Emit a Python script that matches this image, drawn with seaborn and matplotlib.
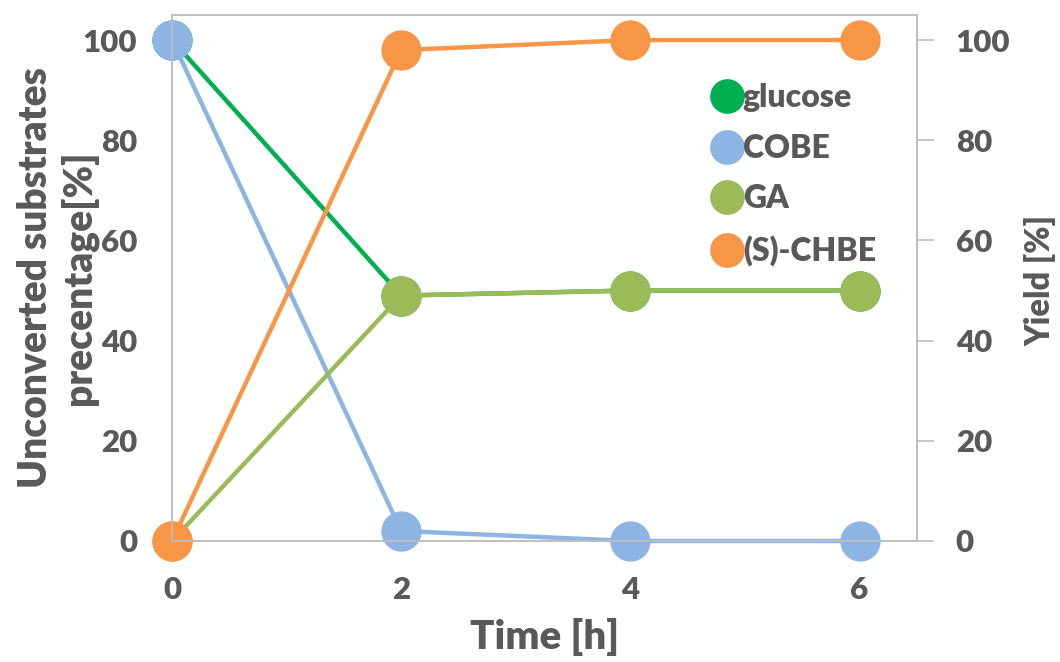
import matplotlib
matplotlib.use("Agg")
import matplotlib.pyplot as plt
import seaborn as sns
import pandas as pd
from matplotlib.lines import Line2D

time_h = [0, 2, 4, 6]
glucose = [100, 49, 50, 50]
cobe = [100, 2, 0, 0]
ga = [0, 49, 50, 50]
chbe = [0, 98, 100, 100]
series_names = ["glucose", "COBE", "GA", "(S)-CHBE"]
series_colors = ["#00B050", "#8EB4E3", "#9BBB59", "#F79646"]
y_ticks = [0, 20, 40, 60, 80, 100]

sns.set_theme(style="white")
plt.rcParams['font.family'] = ['Lato', 'DejaVu Sans']
W = 'heavy'
plt.rcParams['font.weight'] = W

txt = "#595959"
fig = plt.figure(figsize=(10.6, 6.62), dpi=100)
ax = fig.add_axes([0.1623, 0.1828, 0.865 - 0.1623, 0.9773 - 0.1828])

all_vals = [glucose, cobe, ga, chbe]
for name, vals, col in zip(series_names, all_vals, series_colors):
    df = pd.DataFrame({"t": time_h, "v": vals})
    sns.lineplot(data=df, x="t", y="v", ax=ax, color=col, lw=3.2,
                 marker="o", markersize=29, markeredgewidth=0,
                 markerfacecolor=col, clip_on=False, zorder=3)

ax.set_xlim(0, 6.5)
ax.set_ylim(0, 105)
ax.set_xticks(time_h)
ax.set_yticks(y_ticks)
ax.tick_params(axis='y', labelsize=22.5, labelcolor=txt, length=0, pad=25)
ax.tick_params(axis='x', labelsize=22.5, labelcolor=txt, length=0, pad=25)
for lab in ax.get_xticklabels() + ax.get_yticklabels():
    lab.set_fontweight(W)
ax.set_xlabel("Time [h]", fontsize=29, color=txt, fontweight=W)
ax.xaxis.label.set_va('center')
ax.xaxis.set_label_coords(0.5, -0.1825)
ax.set_ylabel("Unconverted substrates\nprecentage[%]", fontsize=28, color=txt,
              fontweight=W, linespacing=1.18)
ax.yaxis.label.set_va('center')
ax.yaxis.set_label_coords(-0.154, 0.5)
for s in ax.spines.values():
    s.set_color("#BFBFBF")
    s.set_linewidth(1.2)

ax2 = ax.twinx()
ax2.set_ylim(0, 105)
ax2.set_yticks(y_ticks)
ax2.tick_params(axis='y', labelsize=22.5, labelcolor=txt, length=12, width=1.2,
                color="#BFBFBF", direction='out', pad=16)
for lab in ax2.get_yticklabels():
    lab.set_fontweight(W)
ax2.set_ylabel("Yield [%]", fontsize=23.5, color=txt, fontweight=W)
ax2.yaxis.label.set_va('center')
ax2.yaxis.set_label_coords(1.1664, 0.496)
for s in ax2.spines.values():
    s.set_color("#BFBFBF")
    s.set_linewidth(1.2)
ax2.grid(False)
ax.grid(False)

handles = [Line2D([], [], ls='none', marker='o', markersize=25, markeredgewidth=0,
                  markerfacecolor=c) for c in series_colors]
leg = ax2.legend(handles, series_names, loc='upper left', bbox_to_anchor=(0.706, 0.895),
                 frameon=False, fontsize=23, handlelength=1.0, handletextpad=0.0,
                 labelspacing=0.68, borderaxespad=0)
for t in leg.get_texts():
    t.set_color(txt)
    t.set_fontweight(W)

fig.savefig("out.png", dpi=100)
